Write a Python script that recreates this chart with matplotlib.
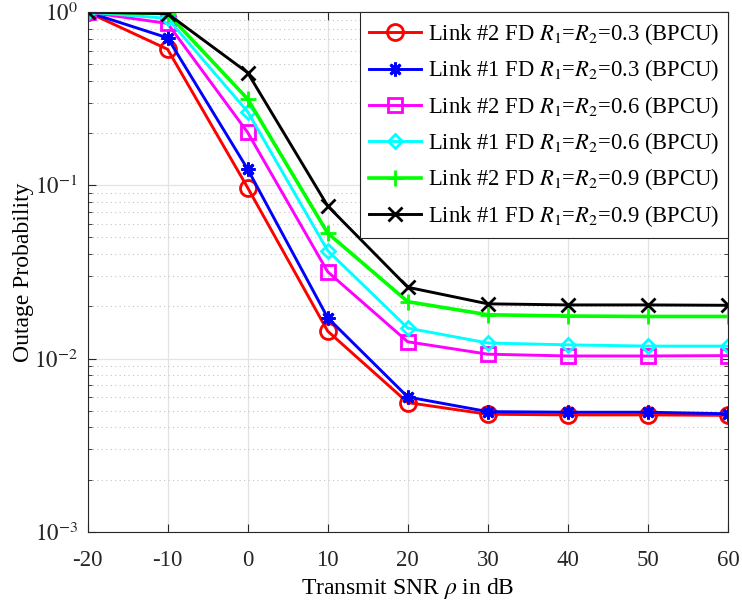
import numpy as np
import matplotlib.pyplot as plt
from matplotlib.ticker import LogLocator, NullFormatter, FixedLocator

plt.rcParams['font.family'] = ['Liberation Serif', 'DejaVu Serif']
plt.rcParams['mathtext.fontset'] = 'stix'

snr = [-20, -10, 0, 10, 20, 30, 40, 50, 60]

l2_03 = [1.0, 0.61, 0.097, 0.0144, 0.00557, 0.00477, 0.00473, 0.00473, 0.0047]
l1_03 = [1.0, 0.71, 0.124, 0.0172, 0.0060, 0.00494, 0.0049, 0.0049, 0.0048]
l2_06 = [1.0, 0.86, 0.202, 0.0317, 0.0125, 0.0106, 0.01035, 0.01035, 0.0104]
l1_06 = [1.0, 0.92, 0.266, 0.042, 0.0150, 0.0123, 0.0120, 0.0118, 0.0118]
l2_09 = [1.0, 0.98, 0.315, 0.053, 0.0213, 0.0179, 0.0176, 0.0175, 0.0175]
l1_09 = [1.0, 0.98, 0.447, 0.076, 0.0258, 0.0207, 0.0204, 0.0204, 0.0203]

ydec = [1e-3, 1e-2, 1e-1, 1]
ydec_labels = [r'$10^{-3}$', r'$10^{-2}$', r'$10^{-1}$', r'$10^{0}$']

series = [
    (l2_03, '#ff0000', 'o', r'Link #2 FD $R_1$=$R_2$=0.3 (BPCU)'),
    (l1_03, '#0000ff', (8, 2, 0), r'Link #1 FD $R_1$=$R_2$=0.3 (BPCU)'),
    (l2_06, '#ff00ff', 's', r'Link #2 FD $R_1$=$R_2$=0.6 (BPCU)'),
    (l1_06, '#00ffff', 'D', r'Link #1 FD $R_1$=$R_2$=0.6 (BPCU)'),
    (l2_09, '#00ff00', '+', r'Link #2 FD $R_1$=$R_2$=0.9 (BPCU)'),
    (l1_09, '#000000', 'x', r'Link #1 FD $R_1$=$R_2$=0.9 (BPCU)'),
]
sizes = [11.5, 10, 9.5, 7.5, 12, 10]

fig = plt.figure(figsize=(7.42, 6.05), dpi=100)
ax = fig.add_axes([0.118, 0.121, 0.863, 0.859])

for (vals, col, mk, lab), ms in zip(series, sizes):
    lw = 2.6 if mk == '+' else 2.1
    ax.semilogy(snr, vals, color=col, marker=mk, lw=lw, ms=ms,
                mfc='none', mew=2, label=lab)

ax.set_xlim(-20, 60)
ax.set_ylim(1e-3, 1)
ax.set_xticks(snr)
ax.set_xticklabels([str(s) for s in snr])
ax.yaxis.set_major_locator(FixedLocator(ydec))
ax.set_yticklabels(ydec_labels)
ax.yaxis.set_minor_locator(LogLocator(base=10, subs=np.arange(2, 10)))
ax.yaxis.set_minor_formatter(NullFormatter())

ax.grid(True, which='major', color='#e3e3e3', lw=0.9, ls='-')
ax.grid(True, which='minor', axis='y', color='#c4c4c4', lw=0.8, ls=(0, (1, 3)))
ax.set_axisbelow(True)

ax.tick_params(which='both', direction='in', top=True, right=True,
               labelsize=16.5, colors='#262626')
ax.tick_params(axis='x', pad=13)
ax.tick_params(axis='y', pad=7)
ax.tick_params(which='major', length=6)
ax.tick_params(which='minor', length=3)
for sp in ax.spines.values():
    sp.set_color('#262626')

ax.set_xlabel(r'Transmit SNR $\rho$ in dB', fontsize=17, labelpad=4)
ax.set_ylabel('Outage Probability', fontsize=17, labelpad=0)

leg = ax.legend(loc='upper right', fontsize=16.3, fancybox=False, framealpha=1,
                edgecolor='#262626', borderaxespad=0, handlelength=2.3,
                handletextpad=0.3, labelspacing=0.46, borderpad=0.4)
leg.get_frame().set_linewidth(0.8)

fig.savefig('out.png', dpi=100)
